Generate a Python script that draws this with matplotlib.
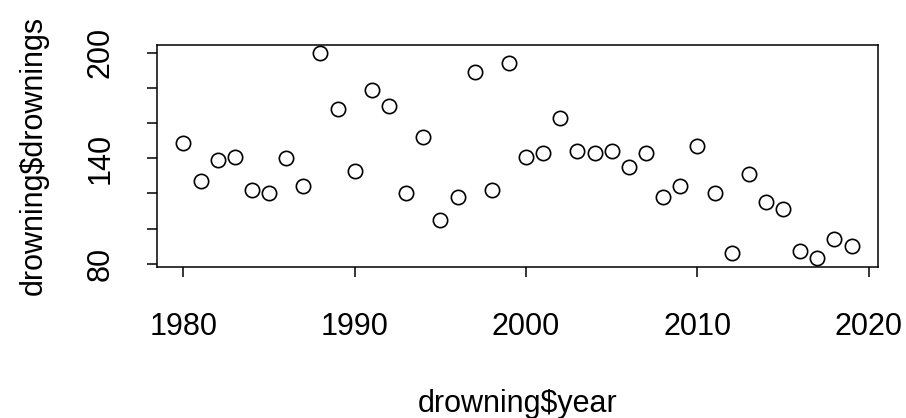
import matplotlib
matplotlib.use("Agg")
import matplotlib.pyplot as plt

years = list(range(1980, 2020))
drownings = [149, 127, 139, 141, 122, 120, 140, 124, 200, 168,
             133, 179, 170, 120, 152, 105, 118, 189, 122, 194,
             141, 143, 163, 144, 143, 144, 135, 143, 118, 124,
             147, 120, 86, 131, 115, 111, 87, 83, 94, 90]
x_ticks = [1980, 1990, 2000, 2010, 2020]
y_ticks = [80, 100, 120, 140, 160, 180, 200]
y_tick_labels = ["80", "", "", "140", "", "", "200"]

W, H = 906, 418
plt.rcParams['font.family'] = ['Liberation Sans', 'DejaVu Sans']
fig = plt.figure(figsize=(W / 100, H / 100), dpi=100)
ax = fig.add_axes([156.7 / W, 1 - 266.7 / H, (878.3 - 156.7) / W, (266.7 - 44.7) / H])
ax.plot(years, drownings, linestyle='none', marker='o', markersize=10.3,
        markerfacecolor='none', markeredgecolor='black', markeredgewidth=1.2,
        clip_on=False)
xr = max(years) - min(years)
yr = max(drownings) - min(drownings)
ax.set_xlim(min(years) - 0.04 * xr, max(years) + 0.04 * xr)
ax.set_ylim(min(drownings) - 0.04 * yr, max(drownings) + 0.04 * yr)
ax.set_xticks(x_ticks)
ax.set_yticks(y_ticks)
ax.set_yticklabels(y_tick_labels, rotation=90, va='center')
for s in ax.spines.values():
    s.set_linewidth(1.1)
ax.tick_params(axis='both', length=7.5, width=1.1, labelsize=22, direction='out')
ax.tick_params(axis='x', pad=25)
ax.tick_params(axis='y', pad=22)
fig.text(517.5 / W, 1 - 412 / H, 'drowning$year', fontsize=22,
         ha='center', va='baseline')
fig.text(42 / W, 1 - 155 / H, 'drowning$drownings', fontsize=22,
         rotation=90, rotation_mode='anchor', ha='center', va='baseline')
fig.savefig('out.png', dpi=100)
